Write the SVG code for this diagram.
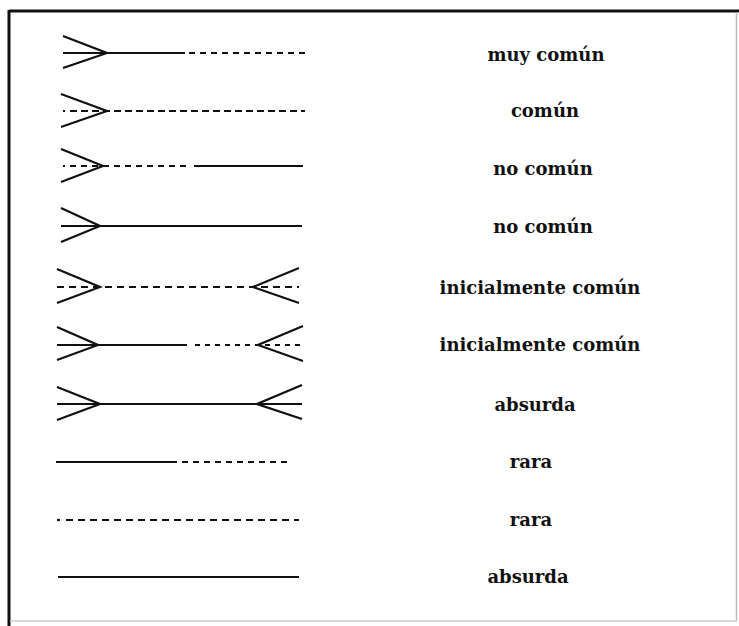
<svg xmlns="http://www.w3.org/2000/svg" width="739" height="626" viewBox="0 0 739 626">
<style>
.s{stroke:#111;stroke-width:2.2;fill:none;stroke-linecap:butt}
.d{stroke-dasharray:6 5}
.d2{stroke-dasharray:7 4}
.dt{stroke-dasharray:5 5}
.t{font-family:"DejaVu Serif","Liberation Serif",serif;font-weight:bold;font-size:18px;fill:#111;text-anchor:middle}
</style>
<rect x="0" y="0" width="739" height="626" fill="#fff"/>
<g id="frame">
<line x1="9" y1="11" x2="739" y2="11" stroke="#111" stroke-width="3"/>
<line x1="9" y1="10" x2="9" y2="626" stroke="#111" stroke-width="3"/>
<line x1="736.5" y1="12" x2="736.5" y2="621" stroke="#bbb" stroke-width="1.5"/>
<line x1="10" y1="621" x2="737" y2="621" stroke="#ccc" stroke-width="1.5"/>
</g>
<g id="connectors">
<g id="row1">
<path class="s" d="M63 36 L107 53 L63 68"/>
<line class="s" x1="63" y1="53" x2="185" y2="53"/>
<line class="s d" x1="189" y1="53" x2="305" y2="53"/>
</g>
<g id="row2">
<path class="s" d="M61 94 L107 111 L61 127"/>
<line class="s" x1="63" y1="111" x2="65" y2="111"/>
<line class="s d2" x1="70" y1="111" x2="305" y2="111"/>
</g>
<g id="row3">
<path class="s" d="M61 149 L103 166 L61 182"/>
<line class="s" x1="63" y1="166" x2="65" y2="166"/>
<line class="s d" x1="70" y1="166" x2="188" y2="166"/>
<line class="s" x1="194" y1="166" x2="303" y2="166"/>
</g>
<g id="row4">
<path class="s" d="M61 208 L100 226 L61 242"/>
<line class="s" x1="61" y1="226" x2="302" y2="226"/>
</g>
<g id="row5">
<path class="s" d="M57 269 L100 287 L57 303"/>
<path class="s" d="M299 268 L253 287 L299 303"/>
<line class="s" x1="57" y1="287" x2="299" y2="287" stroke-dasharray="7 5"/>
</g>
<g id="row6">
<path class="s" d="M57 327 L98 345 L57 360"/>
<path class="s" d="M303 326 L258 345 L303 361"/>
<line class="s" x1="57" y1="345" x2="187" y2="345"/>
<line class="s dt" x1="195" y1="345" x2="305" y2="345"/>
</g>
<g id="row7">
<path class="s" d="M57 387 L100 404 L57 420"/>
<path class="s" d="M302 385 L257 404 L302 419"/>
<line class="s" x1="57" y1="404" x2="302" y2="404"/>
</g>
<g id="row8">
<line class="s" x1="56" y1="462" x2="177" y2="462"/>
<line class="s d" x1="182" y1="462" x2="291" y2="462"/>
</g>
<g id="row9">
<line class="s" x1="57" y1="520" x2="60" y2="520"/>
<line class="s" x1="66" y1="520" x2="299" y2="520" stroke-dasharray="7 5"/>
</g>
<g id="row10">
<line class="s" x1="58" y1="577" x2="299" y2="577"/>
</g>
</g>
<g id="labels">
<text id="l1" class="t" x="546" y="61">muy común</text>
<text id="l2" class="t" x="545" y="117">común</text>
<text id="l3" class="t" x="543" y="175">no común</text>
<text id="l4" class="t" x="543" y="233">no común</text>
<text id="l5" class="t" x="540" y="294">inicialmente común</text>
<text id="l6" class="t" x="540" y="351">inicialmente común</text>
<text id="l7" class="t" x="535" y="411">absurda</text>
<text id="l8" class="t" x="531" y="468">rara</text>
<text id="l9" class="t" x="531" y="526">rara</text>
<text id="l10" class="t" x="528" y="583">absurda</text>
</g>
</svg>
